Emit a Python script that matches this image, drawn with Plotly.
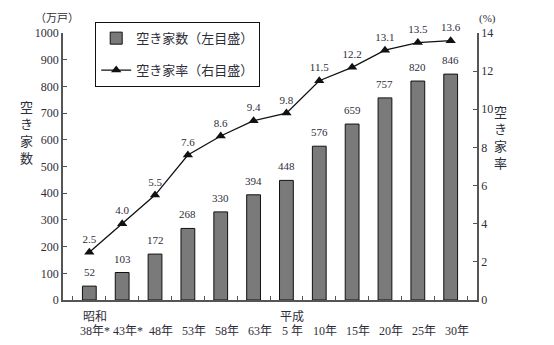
import plotly.graph_objects as go

categories = ["昭和38", "昭和43", "昭和48", "昭和53", "昭和58", "昭和63", "平成5", "平成10", "平成15", "平成20", "平成25", "平成30"]
tick_labels = ["38年*", "43年*", "48年", "53年", "58年", "63年", "5 年", "10年", "15年", "20年", "25年", "30年"]
era_labels = {"昭和38": "昭和", "平成5": "平成"}
vacant_count = [52, 103, 172, 268, 330, 394, 448, 576, 659, 757, 820, 846]
vacant_rate = [2.5, 4.0, 5.5, 7.6, 8.6, 9.4, 9.8, 11.5, 12.2, 13.1, 13.5, 13.6]

SERIF = "Liberation Serif, Noto Sans CJK JP"
TXT = "#2e2e3a"

fig = go.Figure()
fig.add_trace(go.Bar(
    x=categories, y=vacant_count, name="空き家数（左目盛）",
    marker=dict(color="#7a7a7a", line=dict(color="#111111", width=1)),
    cliponaxis=False, legendgroup="a", width=0.42,
))
fig.add_trace(go.Scatter(
    x=categories, y=vacant_rate, name="空き家率（右目盛）", yaxis="y2",
    mode="lines+markers+text",
    line=dict(color="#111111", width=1.3),
    marker=dict(symbol="triangle-up", size=9, color="#111111"),
    text=[f"{v:.1f}" for v in vacant_rate], textposition="top center",
    textfont=dict(family=SERIF, size=11, color=TXT),
    cliponaxis=False, legendgroup="b",
))

for c, v in zip(categories, vacant_count):
    fig.add_annotation(x=c, y=v, xref="x", yref="y", yanchor="bottom", yshift=6,
                       text=str(v), showarrow=False, font=dict(family=SERIF, size=11, color=TXT))
for c, t in zip(categories, tick_labels):
    fig.add_annotation(x=c, y=0, xref="x", yref="paper", yanchor="top", yshift=-22, xshift=6,
                       text=t, showarrow=False, font=dict(family=SERIF, size=12, color=TXT))
for c, t in era_labels.items():
    fig.add_annotation(x=c, y=0, xref="x", yref="paper", yanchor="top", yshift=-8, xshift=6,
                       text=t, showarrow=False, font=dict(family=SERIF, size=12, color=TXT))

fig.add_annotation(x=33, y=10, text="（万戸）", showarrow=False,
                   font=dict(family=SERIF, size=11, color=TXT))
fig.add_annotation(x=498, y=10, text="(%)", showarrow=False,
                   font=dict(family=SERIF, size=11, color=TXT))
fig.add_annotation(x=18, y=133, text="空<br>き<br>家<br>数", showarrow=False,
                   font=dict(family=SERIF, size=13, color=TXT))
fig.add_annotation(x=509, y=138, text="空<br>き<br>家<br>率", showarrow=False,
                   font=dict(family=SERIF, size=13, color=TXT))
# convert the pixel-positioned labels to paper coords
W, H, L, R, T, B = 554, 345, 63, 77, 33, 45
pw, ph = W - L - R, H - T - B
for a in fig.layout.annotations[-4:]:
    a.xref = "paper"; a.yref = "paper"
    a.x = (a.x - L) / pw
    a.y = 1 - (a.y - T) / ph

axis_common = dict(showline=True, linecolor="#555555", linewidth=1.5, ticks="inside", ticklen=4,
                   tickcolor="#555555", showgrid=False, zeroline=False,
                   tickfont=dict(family=SERIF, size=12, color=TXT))

fig.update_layout(
    width=W, height=H, margin=dict(l=L, r=R, t=T, b=B),
    plot_bgcolor="white", paper_bgcolor="white",
    bargap=0.58,
    xaxis=dict(type="category", showline=True, linecolor="#555555", linewidth=1.5, ticks="inside", ticklen=4,
               tickcolor="#555555", tickson="boundaries", showticklabels=False, showgrid=False),
    yaxis=dict(range=[0, 1000], dtick=100, **axis_common),
    yaxis2=dict(range=[0, 14], dtick=2, overlaying="y", side="right", **axis_common),
    legend=dict(x=(95 - L) / pw, y=1 + 11 / ph, xanchor="left", yanchor="top",
                bordercolor="#111111", borderwidth=1.2, bgcolor="white",
                font=dict(family=SERIF, size=13, color=TXT), tracegroupgap=12),
    showlegend=True,
)
fig.write_html("out.html")
